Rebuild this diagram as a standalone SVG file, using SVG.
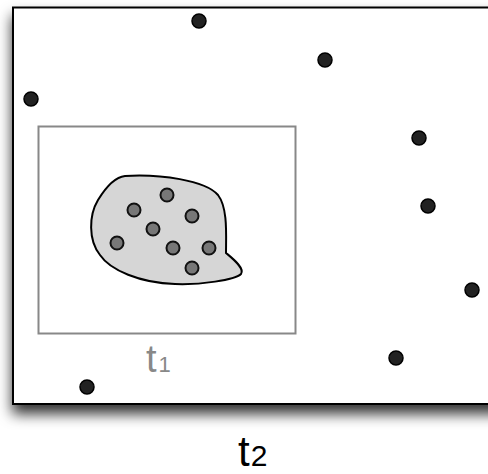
<svg xmlns="http://www.w3.org/2000/svg" width="488" height="474" viewBox="0 0 488 474">
<defs>
<filter id="shadow" x="-10%" y="-10%" width="130%" height="130%">
<feDropShadow dx="0" dy="9" stdDeviation="7" flood-color="#000" flood-opacity="0.8"/>
</filter>
<style>
.bd{fill:#222;stroke:#000;stroke-width:1.5}
.gd{fill:#777;stroke:#111;stroke-width:2}
.lbl{font-family:"Liberation Sans",Arial,sans-serif}
</style>
</defs>
<rect width="488" height="474" fill="#fff"/>
<g id="t2-frame">
<rect x="13" y="7.5" width="490" height="396.5" fill="#fff" stroke="#000" stroke-width="2" filter="url(#shadow)"/>
</g>
<g id="t1-frame">
<rect x="38.5" y="126.5" width="257" height="207" fill="none" stroke="#888" stroke-width="2"/>
</g>
<g id="region">
<path d="M125,176 C160,174 205,180 218,195 C228,208 226,235 226,253 C232,258 245,268 241,274 C235,280 200,285 175,284 C140,283 110,270 100,255 C88,240 89,215 98,200 C106,187 115,177 125,176 Z" fill="#d6d6d6" stroke="#000" stroke-width="2"/>
</g>
<g id="inner-points">
<circle class="gd" cx="167" cy="195" r="6.5"/>
<circle class="gd" cx="134" cy="210" r="6.5"/>
<circle class="gd" cx="192" cy="216" r="6.5"/>
<circle class="gd" cx="153" cy="229" r="6.5"/>
<circle class="gd" cx="117" cy="243" r="6.5"/>
<circle class="gd" cx="173" cy="248" r="6.5"/>
<circle class="gd" cx="209" cy="248" r="6.5"/>
<circle class="gd" cx="192" cy="268" r="6.5"/>
</g>
<g id="outer-points">
<circle class="bd" cx="199" cy="21" r="7"/>
<circle class="bd" cx="325" cy="60" r="7"/>
<circle class="bd" cx="31" cy="99" r="7"/>
<circle class="bd" cx="419" cy="138" r="7"/>
<circle class="bd" cx="428" cy="206" r="7"/>
<circle class="bd" cx="472" cy="290" r="7"/>
<circle class="bd" cx="396" cy="358" r="7"/>
<circle class="bd" cx="87" cy="387" r="7"/>
</g>
<g id="labels">
<text class="lbl" x="146" y="372" font-size="38" fill="#888">t<tspan dx="2" font-size="22">1</tspan></text>
<text class="lbl" x="238" y="466" font-size="42" fill="#000">t<tspan dx="1" font-size="30">2</tspan></text>
</g>
</svg>
